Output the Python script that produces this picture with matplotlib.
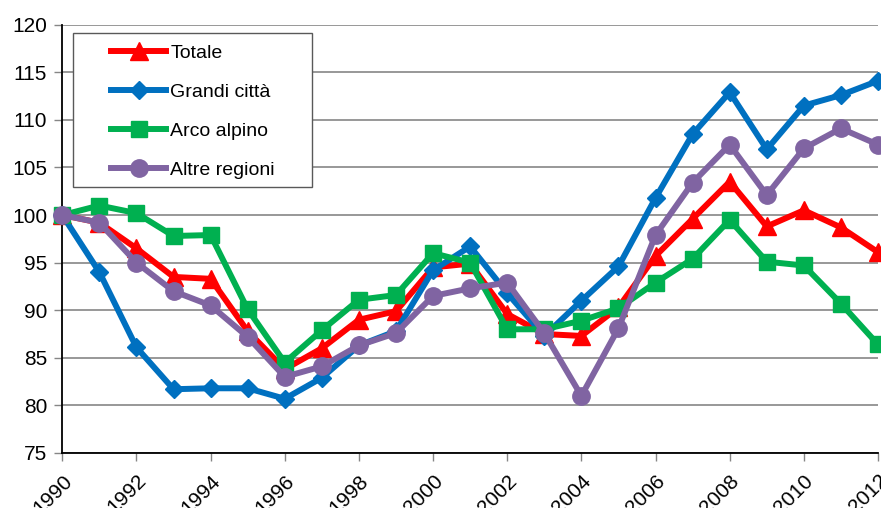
import matplotlib
matplotlib.use("Agg")
import matplotlib.pyplot as plt
from matplotlib.ticker import MultipleLocator
from matplotlib.patches import Rectangle

plt.rcParams['font.family'] = ['Liberation Sans', 'DejaVu Sans']

years = list(range(1990, 2013))
totale = [100, 99.2, 96.5, 93.5, 93.3, 87.8, 83.8, 86.0, 89.0, 89.9, 94.5, 94.9,
          89.6, 87.5, 87.3, 90.3, 95.7, 99.6, 103.5, 98.8, 100.5, 98.7, 96.1]
grandi = [100, 94.0, 86.1, 81.7, 81.8, 81.8, 80.7, 82.9, 86.3, 87.8, 94.2, 96.7,
          91.8, 87.3, 91.0, 94.6, 101.8, 108.5, 112.9, 106.9, 111.5, 112.6, 114.1]
arco = [100, 101.0, 100.2, 97.8, 97.9, 90.1, 84.5, 87.9, 91.1, 91.6, 96.0, 95.0,
        88.0, 88.0, 88.9, 90.2, 92.9, 95.4, 99.5, 95.1, 94.7, 90.7, 86.4]
altre = [100, 99.2, 95.0, 92.0, 90.5, 87.2, 83.0, 84.1, 86.3, 87.6, 91.5, 92.3,
         92.9, 87.6, 81.0, 88.1, 97.9, 103.4, 107.4, 102.1, 107.0, 109.1, 107.4]
labels = ["Totale", "Grandi città", "Arco alpino", "Altre regioni"]
xticks = list(range(1990, 2013, 2))

W, H = 881, 508
fig = plt.figure(figsize=(W / 100, H / 100), dpi=100)
ax = fig.add_axes([62.3 / W, 1 - 453 / H, (878 - 62.3) / W, (453 - 24.7) / H])

styles = [
    dict(color="#FF0000", marker="^", markersize=12.5),
    dict(color="#0070C0", marker="D", markersize=9.5),
    dict(color="#00B050", marker="s", markersize=12),
    dict(color="#8064A2", marker="o", markersize=12.5),
]
for series, lab, st in zip([totale, grandi, arco, altre], labels, styles):
    ax.plot(years, series, label=lab, linewidth=4.3, clip_on=False, zorder=3, **st)

ax.set_xlim(1990, 2012)
ax.set_ylim(75, 120)
ax.yaxis.set_major_locator(MultipleLocator(5))
ax.set_xticks(xticks)
ax.set_xticklabels([str(y) for y in xticks], rotation=45, ha="right",
                   rotation_mode="anchor", fontsize=15)
ax.tick_params(axis="y", labelsize=15, length=6, width=1, direction="out", pad=5,
               color="#868686")
ax.tick_params(axis="x", length=6, width=1, direction="out", pad=7,
               color="#868686")
ax.grid(axis="y", color="#868686", linewidth=1.2, zorder=0)
ax.set_axisbelow(True)
for s in ["top", "right"]:
    ax.spines[s].set_visible(False)
for s in ["left", "bottom"]:
    ax.spines[s].set_color("black")
    ax.spines[s].set_linewidth(1.3)

# legend frame (drawn separately so the inner padding matches the reference)
ax.add_artist(Rectangle((73 / W, 1 - 187 / H), (312 - 73) / W, (187 - 33) / H,
                        transform=fig.transFigure, facecolor="white",
                        edgecolor="#595959", linewidth=1.0, zorder=4,
                        clip_on=False))
leg = ax.legend(loc="upper left", bbox_to_anchor=(111 / W, 1 - 44 / H),
                bbox_transform=fig.transFigure, borderaxespad=0, borderpad=0,
                fontsize=14, handlelength=2.85, labelspacing=1.1,
                frameon=False, handletextpad=0.2)
leg.set_zorder(5)

fig.savefig("out.png", dpi=100)
